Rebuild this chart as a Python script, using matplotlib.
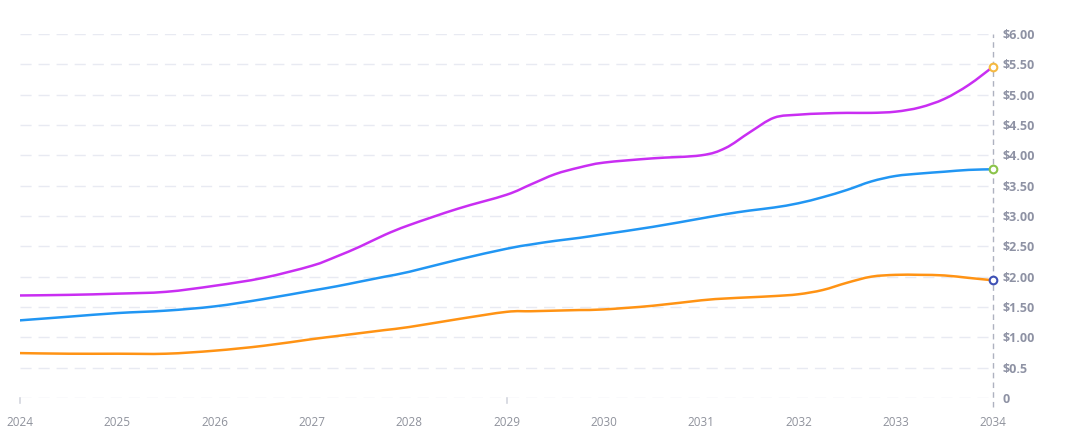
import matplotlib
matplotlib.use("Agg")
import matplotlib.pyplot as plt
from matplotlib.path import Path
from matplotlib.patches import PathPatch

# decimal years sampled along the curves
years = [2024, 2024.5, 2025, 2025.5, 2026, 2026.5, 2027, 2027.25, 2027.5, 2027.75,
         2028, 2028.5, 2029, 2029.25, 2029.5, 2029.75, 2030, 2030.5, 2031, 2031.25,
         2031.5, 2031.75, 2032, 2032.25, 2032.5, 2032.75, 2033, 2033.25, 2033.5,
         2033.75, 2034]

high = [1.69, 1.70, 1.72, 1.75, 1.85, 1.98, 2.18, 2.33, 2.50, 2.69,
        2.85, 3.12, 3.35, 3.52, 3.69, 3.80, 3.88, 3.95, 4.00, 4.12,
        4.38, 4.62, 4.67, 4.69, 4.70, 4.70, 4.72, 4.79, 4.93, 5.16, 5.46]

avg = [1.28, 1.34, 1.40, 1.44, 1.51, 1.63, 1.77, 1.84, 1.92, 2.00,
       2.08, 2.28, 2.46, 2.53, 2.59, 2.64, 2.70, 2.82, 2.96, 3.03,
       3.09, 3.14, 3.21, 3.31, 3.43, 3.57, 3.66, 3.70, 3.73, 3.76, 3.77]

low = [0.74, 0.73, 0.73, 0.73, 0.78, 0.86, 0.97, 1.02, 1.07, 1.12,
       1.17, 1.30, 1.42, 1.43, 1.44, 1.45, 1.46, 1.52, 1.61, 1.64,
       1.66, 1.68, 1.71, 1.78, 1.90, 2.00, 2.03, 2.03, 2.02, 1.98, 1.94]

x_ticks = list(range(2024, 2035))
y_ticks = [0, 0.5, 1, 1.5, 2, 2.5, 3, 3.5, 4, 4.5, 5, 5.5, 6]
y_labels = ["0", "$0.5", "$1.00", "$1.50", "$2.00", "$2.50", "$3.00",
            "$3.50", "$4.00", "$4.50", "$5.00", "$5.50", "$6.00"]

series = [
    (high, "#c92ef2", "#f5b942"),
    (avg, "#2196f3", "#8bc34a"),
    (low, "#ff9314", "#3f51b5"),
]


def smooth_path(xs, ys):
    # cubic bezier segments through the points (catmull-rom style handles)
    n = len(xs)
    verts = [(xs[0], ys[0])]
    codes = [Path.MOVETO]
    for i in range(n - 1):
        i0 = max(i - 1, 0)
        i3 = min(i + 2, n - 1)
        c1 = (xs[i] + (xs[i + 1] - xs[i0]) / 6, ys[i] + (ys[i + 1] - ys[i0]) / 6)
        c2 = (xs[i + 1] - (xs[i3] - xs[i]) / 6, ys[i + 1] - (ys[i3] - ys[i]) / 6)
        verts += [c1, c2, (xs[i + 1], ys[i + 1])]
        codes += [Path.CURVE4] * 3
    return Path(verts, codes)


fig = plt.figure(figsize=(10.74, 4.30), dpi=100)
ax = fig.add_axes([20 / 1074, 32 / 430, 973 / 1074, 364 / 430])

for yv in y_ticks:
    ax.axhline(yv, color="#e8eaf2", lw=1, dashes=(8, 5), zorder=0)
ax.plot([2034, 2034], [-0.15, 6], color="#aeb2c0", lw=1, dashes=(4, 3),
        zorder=1, clip_on=False)

for vals, color, mcolor in series:
    patch = PathPatch(smooth_path(years, vals), facecolor="none", edgecolor=color,
                      lw=1.8, capstyle="round", zorder=3)
    ax.add_patch(patch)
    ax.plot(years[-1], vals[-1], "o", ms=5.5, mfc="white", mec=mcolor, mew=1.5,
            zorder=4, clip_on=False)

ax.set_xlim(2024, 2034)
ax.set_ylim(0, 6)
for s in ax.spines.values():
    s.set_visible(False)

ax.set_xticks(x_ticks)
ax.set_xticklabels([str(t) for t in x_ticks], color="#8f929c", fontsize=8.5,
                   family="Open Sans")
ax.tick_params(axis="x", length=0, pad=13)
for t in [2024, 2029]:
    ax.plot([t, t], [0, -0.09], color="#d3d6de", lw=1.2, clip_on=False)

ax.yaxis.tick_right()
ax.set_yticks(y_ticks)
ax.set_yticklabels(y_labels, color="#8e92a4", fontsize=9, fontweight="bold",
                   family="Open Sans")
ax.tick_params(axis="y", length=0, pad=7)

fig.savefig("out.png", dpi=100)
